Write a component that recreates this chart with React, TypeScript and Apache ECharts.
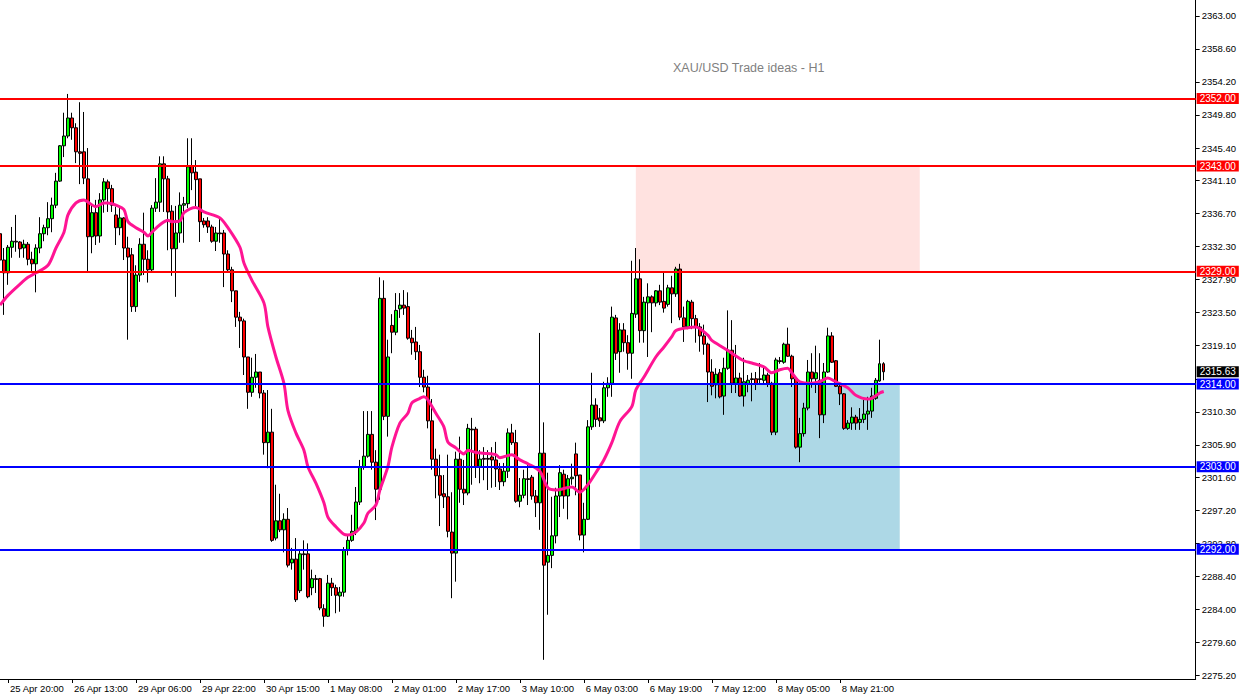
import React, { useEffect, useRef } from "react";
import * as echarts from "echarts";

// ---- data (XAU/USD H1) ----
const chartTitle = "XAU/USD Trade ideas - H1";

const xTickLabels = [
  "25 Apr 20:00", "26 Apr 13:00", "29 Apr 06:00", "29 Apr 22:00", "30 Apr 15:00",
  "1 May 08:00", "2 May 01:00", "2 May 17:00", "3 May 10:00", "6 May 03:00",
  "6 May 19:00", "7 May 12:00", "8 May 05:00", "8 May 21:00",
];
const firstLabelBar = 2;
const barsPerLabel = 16;
const totalSlots = 300;

// price-scale ticks; the 2314.70 label sits under the level tags in the reference
const yTickValues = [
  2363.0, 2358.6, 2354.2, 2349.8, 2345.4, 2341.1, 2336.7, 2332.3, 2327.9, 2323.5,
  2319.1, 2314.7, 2310.3, 2305.9, 2301.6, 2297.2, 2292.8, 2288.4, 2284.0, 2279.6, 2275.2,
];
const yLabelValues = [
  2363.0, 2358.6, 2354.2, 2349.8, 2345.4, 2341.1, 2336.7, 2332.3, 2327.9, 2323.5,
  2319.1, 2310.3, 2305.9, 2301.6, 2297.2, 2292.8, 2288.4, 2284.0, 2279.6, 2275.2,
];
const yMin = 2274.75;
const yMax = 2365.1;

const open = [
  2334.0, 2330.5, 2328.8, 2332.2, 2333.0, 2332.9, 2332.1, 2332.6, 2330.6, 2330.0,
  2332.1, 2334.0, 2334.8, 2336.0, 2337.8, 2341.0, 2345.7, 2347.0, 2349.4, 2348.1,
  2344.9, 2344.9, 2341.3, 2333.6, 2336.8, 2333.7, 2338.5, 2340.9, 2340.0, 2336.5,
  2334.8, 2336.1, 2332.1, 2331.2, 2324.3, 2328.5, 2332.6, 2330.6, 2329.2, 2337.4,
  2338.2, 2343.3, 2341.3, 2337.0, 2332.0, 2334.1, 2337.8, 2338.0, 2343.0, 2342.2,
  2341.3, 2335.7, 2335.7, 2334.9, 2333.0, 2334.1, 2334.1, 2331.3, 2329.2, 2326.4,
  2322.9, 2322.4, 2317.6, 2312.9, 2314.9, 2315.6, 2312.8, 2306.2, 2307.6, 2293.5,
  2295.8, 2294.6, 2296.0, 2290.2, 2290.7, 2286.5, 2291.4, 2291.4, 2286.9, 2288.1,
  2288.1, 2284.1, 2283.1, 2287.5, 2286.9, 2285.8, 2286.3, 2291.9, 2293.2, 2294.4,
  2298.3, 2303.0, 2304.4, 2307.3, 2303.6, 2300.0, 2325.4, 2309.7, 2321.8, 2320.9,
  2324.0, 2324.5, 2324.3, 2320.1, 2319.6, 2318.3, 2314.9, 2313.6, 2309.1, 2304.0,
  2301.8, 2299.4, 2299.0, 2294.3, 2291.5, 2304.0, 2300.0, 2299.5, 2308.0, 2308.0,
  2303.0, 2304.1, 2304.1, 2304.3, 2303.9, 2302.7, 2301.0, 2302.4, 2307.5, 2306.2,
  2298.4, 2299.2, 2301.4, 2301.6, 2299.1, 2298.2, 2304.8, 2290.3, 2291.2, 2293.8,
  2299.1, 2302.0, 2299.1, 2301.4, 2304.7, 2301.9, 2293.9, 2296.0, 2308.3, 2311.2,
  2309.5, 2309.1, 2313.5, 2314.1, 2322.8, 2318.3, 2321.2, 2319.5, 2318.1, 2323.3,
  2328.0, 2321.1, 2324.8, 2325.6, 2324.8, 2326.4, 2325.0, 2324.6, 2326.8, 2326.0,
  2329.3, 2322.8, 2321.6, 2324.9, 2322.7, 2321.6, 2320.4, 2319.3, 2315.6, 2313.9,
  2315.5, 2312.4, 2316.1, 2318.5, 2314.1, 2314.8, 2312.4, 2314.0, 2314.7, 2314.7,
  2314.7, 2314.5, 2315.2, 2314.1, 2307.6, 2317.1, 2316.9, 2319.3, 2317.7, 2314.7,
  2305.6, 2307.4, 2310.8, 2315.6, 2314.7, 2314.5, 2309.9, 2315.6, 2320.4, 2317.1,
  2313.7, 2312.7, 2308.1, 2308.8, 2309.6, 2308.9, 2309.3, 2310.0, 2310.4, 2312.1,
  2314.4, 2316.7,
];
const close = [
  2330.5, 2328.8, 2332.2, 2333.0, 2332.9, 2332.0, 2332.6, 2330.6, 2330.0, 2332.1,
  2334.0, 2334.8, 2336.0, 2337.8, 2341.0, 2345.7, 2347.0, 2349.4, 2348.1, 2344.9,
  2344.7, 2341.4, 2333.6, 2336.8, 2333.7, 2338.5, 2340.9, 2340.0, 2337.8, 2334.8,
  2336.1, 2332.1, 2330.9, 2324.3, 2328.5, 2332.6, 2330.6, 2329.2, 2337.4, 2338.2,
  2343.3, 2341.3, 2336.9, 2332.0, 2334.1, 2337.8, 2338.0, 2342.9, 2342.1, 2341.2,
  2335.6, 2335.2, 2334.9, 2333.0, 2334.1, 2334.0, 2331.3, 2329.2, 2326.4, 2322.9,
  2322.4, 2317.6, 2312.9, 2314.9, 2315.6, 2312.8, 2306.2, 2307.6, 2293.2, 2295.8,
  2294.6, 2296.0, 2289.9, 2290.7, 2285.3, 2291.4, 2291.3, 2285.7, 2288.1, 2288.0,
  2284.2, 2283.1, 2287.5, 2286.9, 2285.9, 2286.3, 2291.9, 2293.2, 2294.4, 2298.3,
  2303.0, 2304.4, 2307.3, 2303.6, 2300.0, 2325.4, 2309.7, 2317.6, 2320.9, 2323.8,
  2324.5, 2324.1, 2320.1, 2319.5, 2318.3, 2314.9, 2313.6, 2309.1, 2304.0, 2301.8,
  2299.2, 2299.0, 2294.4, 2291.5, 2304.0, 2300.0, 2299.5, 2308.1, 2307.9, 2303.0,
  2304.0, 2304.0, 2304.0, 2303.9, 2302.7, 2301.0, 2302.4, 2307.5, 2306.2, 2298.4,
  2299.2, 2301.4, 2301.3, 2299.1, 2298.2, 2304.8, 2289.9, 2291.2, 2293.8, 2299.1,
  2302.2, 2299.1, 2301.4, 2301.6, 2301.8, 2293.9, 2296.0, 2308.3, 2311.2, 2309.3,
  2309.1, 2313.5, 2314.1, 2322.9, 2318.1, 2321.2, 2319.5, 2318.1, 2323.4, 2328.0,
  2321.1, 2324.9, 2325.6, 2324.8, 2326.4, 2324.9, 2324.1, 2326.8, 2326.0, 2329.3,
  2322.9, 2321.6, 2325.0, 2322.7, 2321.6, 2320.4, 2319.3, 2315.6, 2313.7, 2315.3,
  2312.3, 2316.1, 2318.5, 2314.1, 2314.8, 2312.4, 2314.3, 2314.5, 2314.6, 2314.0,
  2314.6, 2315.2, 2314.1, 2307.6, 2317.2, 2317.0, 2319.3, 2317.7, 2314.7, 2305.6,
  2307.4, 2310.8, 2315.6, 2314.7, 2315.5, 2309.9, 2315.6, 2320.4, 2316.9, 2313.7,
  2312.7, 2308.1, 2308.8, 2309.6, 2308.8, 2309.3, 2310.0, 2310.4, 2312.4, 2314.5,
  2316.7, 2315.63,
];
const low = [
  2327.2, 2323.2, 2327.2, 2330.8, 2331.6, 2330.8, 2330.8, 2329.8, 2328.9, 2326.2,
  2331.4, 2333.0, 2333.8, 2334.2, 2337.4, 2340.9, 2344.2, 2346.7, 2346.5, 2343.4,
  2340.6, 2340.6, 2328.8, 2331.4, 2332.5, 2332.8, 2336.8, 2336.9, 2336.9, 2332.5,
  2333.8, 2330.5, 2319.9, 2323.6, 2323.6, 2327.6, 2328.5, 2327.5, 2328.9, 2336.9,
  2336.9, 2336.9, 2331.8, 2328.4, 2325.6, 2332.8, 2332.8, 2337.4, 2339.8, 2337.6,
  2332.9, 2334.8, 2334.1, 2332.8, 2331.7, 2332.8, 2326.9, 2328.8, 2324.9, 2321.6,
  2318.8, 2315.2, 2310.7, 2312.3, 2313.5, 2312.1, 2304.6, 2302.8, 2293.0, 2293.2,
  2294.3, 2291.6, 2289.6, 2289.3, 2285.0, 2286.2, 2289.3, 2285.5, 2285.9, 2286.2,
  2283.9, 2281.7, 2283.0, 2285.8, 2283.5, 2283.7, 2285.7, 2291.2, 2293.0, 2293.9,
  2297.9, 2302.6, 2304.2, 2302.6, 2295.9, 2298.6, 2309.2, 2307.0, 2318.1, 2320.5,
  2322.8, 2323.2, 2319.9, 2317.9, 2317.2, 2313.6, 2312.9, 2308.1, 2302.6, 2298.8,
  2295.1, 2297.5, 2293.6, 2285.5, 2287.7, 2298.2, 2297.9, 2299.2, 2300.6, 2301.5,
  2300.8, 2301.2, 2299.9, 2300.2, 2300.3, 2299.9, 2300.4, 2301.5, 2305.9, 2298.2,
  2297.6, 2298.8, 2297.9, 2298.6, 2296.3, 2294.6, 2277.3, 2283.3, 2289.5, 2292.8,
  2296.3, 2297.4, 2296.0, 2300.6, 2299.2, 2293.2, 2291.6, 2295.9, 2307.9, 2308.3,
  2308.3, 2308.8, 2312.3, 2312.3, 2317.2, 2315.5, 2318.3, 2315.9, 2314.7, 2322.8,
  2319.5, 2319.5, 2317.6, 2320.9, 2324.3, 2324.5, 2323.5, 2324.3, 2322.1, 2325.6,
  2322.5, 2319.6, 2321.3, 2321.3, 2319.5, 2318.3, 2317.9, 2311.6, 2312.5, 2312.1,
  2312.1, 2309.9, 2315.9, 2312.8, 2312.8, 2312.3, 2311.0, 2312.9, 2311.7, 2313.2,
  2313.9, 2313.9, 2313.6, 2307.2, 2307.2, 2316.7, 2316.7, 2317.6, 2313.6, 2305.4,
  2303.6, 2307.0, 2310.5, 2313.5, 2312.8, 2306.8, 2308.8, 2315.5, 2316.8, 2313.6,
  2311.2, 2307.9, 2307.9, 2307.9, 2307.9, 2307.9, 2308.8, 2307.9, 2309.5, 2311.9,
  2314.3, 2314.5,
];
const high = [
  2336.8, 2332.1, 2332.5, 2334.9, 2336.5, 2333.0, 2333.2, 2332.9, 2331.6, 2332.6,
  2336.2, 2335.2, 2338.2, 2338.8, 2342.1, 2345.8, 2350.1, 2352.6, 2350.1, 2348.7,
  2351.5, 2350.2, 2345.4, 2337.8, 2338.5, 2339.4, 2341.4, 2341.2, 2340.5, 2337.6,
  2337.6, 2336.2, 2333.6, 2332.1, 2329.8, 2333.4, 2336.8, 2331.8, 2337.8, 2341.4,
  2344.3, 2344.3, 2341.7, 2337.8, 2337.7, 2339.5, 2338.9, 2346.7, 2346.7, 2343.8,
  2341.3, 2336.1, 2336.2, 2335.2, 2334.9, 2336.2, 2334.5, 2331.8, 2329.6, 2326.4,
  2323.6, 2322.7, 2317.6, 2317.5, 2318.0, 2315.6, 2313.2, 2313.2, 2310.7, 2300.6,
  2299.4, 2296.8, 2297.5, 2292.2, 2293.5, 2291.9, 2293.2, 2292.8, 2289.3, 2288.6,
  2288.2, 2284.7, 2288.6, 2288.2, 2287.3, 2287.0, 2292.3, 2293.9, 2296.6, 2300.3,
  2303.9, 2310.4, 2310.4, 2310.4, 2305.2, 2328.2, 2327.8, 2319.9, 2323.3, 2326.1,
  2326.1, 2326.5, 2326.2, 2321.2, 2321.6, 2319.2, 2315.9, 2315.1, 2312.0, 2305.4,
  2304.6, 2301.9, 2304.6, 2299.6, 2305.0, 2307.0, 2303.9, 2308.7, 2309.5, 2308.3,
  2305.2, 2305.6, 2305.2, 2305.6, 2306.3, 2303.5, 2303.5, 2308.1, 2308.7, 2307.9,
  2301.5, 2302.6, 2303.2, 2301.9, 2299.9, 2320.8, 2308.9, 2302.2, 2299.0, 2300.2,
  2303.2, 2302.6, 2301.9, 2303.4, 2306.2, 2301.9, 2298.2, 2309.2, 2315.5, 2312.1,
  2310.8, 2314.3, 2314.9, 2324.3, 2323.2, 2322.1, 2322.1, 2320.5, 2330.4, 2332.1,
  2330.6, 2325.6, 2327.4, 2325.8, 2326.5, 2327.2, 2328.9, 2327.2, 2328.4, 2329.6,
  2330.0, 2324.3, 2325.2, 2325.2, 2323.2, 2322.1, 2321.9, 2319.5, 2317.3, 2316.1,
  2316.0, 2317.5, 2323.8, 2322.5, 2319.2, 2315.5, 2317.5, 2315.2, 2315.5, 2315.6,
  2316.8, 2316.3, 2315.5, 2314.3, 2317.5, 2317.6, 2319.5, 2321.5, 2317.9, 2314.8,
  2309.5, 2311.5, 2317.2, 2318.1, 2319.1, 2318.1, 2316.8, 2321.5, 2320.9, 2317.2,
  2313.9, 2312.8, 2309.2, 2310.9, 2309.9, 2310.8, 2311.9, 2312.3, 2313.5, 2314.8,
  2319.9, 2316.9,
];

// moving average as [bar index, price]
const maPoints = [
  [0, 2324.5], [2, 2325.8], [5, 2327.3], [7, 2328.2], [9, 2328.8], [12, 2329.8], [14, 2332.1],
  [16, 2334.2], [17, 2336.5], [19, 2338.1], [21, 2338.5], [22, 2338.2], [24, 2337.6], [26, 2338.1],
  [27, 2338.1], [29, 2337.8], [31, 2337.2], [32, 2335.6], [34, 2334.8], [36, 2334.2], [37, 2333.7],
  [38, 2334.2], [40, 2335.2], [42, 2335.8], [43, 2335.6], [45, 2335.7], [46, 2336.8], [49, 2337.5],
  [51, 2336.9], [55, 2336.1], [57, 2334.8], [60, 2332.2], [61, 2330.1], [63, 2327.8], [66, 2324.8],
  [67, 2321.6], [69, 2317.6], [71, 2314.1], [72, 2310.5], [74, 2307.5], [76, 2305.2], [77, 2303.0],
  [79, 2300.8], [81, 2298.2], [82, 2296.3], [84, 2295.0], [86, 2294.0], [87, 2293.9], [89, 2294.3],
  [91, 2295.5], [92, 2296.8], [94, 2297.9], [95, 2299.9], [97, 2303.0], [98, 2305.6], [100, 2308.8],
  [102, 2310.1], [103, 2311.5], [105, 2312.1], [106, 2312.3], [107, 2311.9], [109, 2310.1], [111, 2308.3],
  [112, 2306.3], [114, 2305.5], [116, 2304.7], [117, 2305.2], [119, 2304.9], [121, 2304.8], [124, 2304.6],
  [125, 2304.2], [128, 2304.6], [130, 2303.9], [132, 2303.4], [135, 2302.4], [137, 2300.2], [139, 2299.9],
  [143, 2300.3], [145, 2299.6], [147, 2300.6], [149, 2302.2], [151, 2303.9], [153, 2306.2], [155, 2309.0],
  [158, 2311.0], [159, 2313.2], [161, 2314.9], [164, 2317.6], [166, 2318.9], [168, 2320.3], [169, 2321.1],
  [172, 2321.5], [174, 2321.6], [177, 2320.5], [178, 2319.8], [181, 2318.8], [183, 2318.1], [186, 2317.1],
  [188, 2316.8], [191, 2316.3], [193, 2315.5], [195, 2315.9], [197, 2316.1], [198, 2315.5], [200, 2314.3],
  [203, 2314.1], [205, 2314.3], [207, 2314.8], [209, 2314.3], [212, 2313.5], [214, 2312.5], [217, 2312.0],
  [218, 2312.1], [220, 2312.8], [221, 2313.0],
];

const resistanceLevels = [2352.0, 2343.0, 2329.0];
const supportLevels = [2314.0, 2303.0, 2292.0];
const lastPrice = 2315.63;

const sellZone = { fromBar: 159, toBar: 230, top: 2343.0, bottom: 2329.0 };
const buyZone = { fromBar: 160, toBar: 225, top: 2314.0, bottom: 2292.0 };

const FONT = "'Liberation Sans', Arial, sans-serif";

export default function App() {
  const ref = useRef<HTMLDivElement>(null);

  useEffect(() => {
    if (!ref.current) return;
    const chart = echarts.init(ref.current, null, { renderer: "svg" });

    const categories = Array.from({ length: totalSlots }, (_, i) => String(i));
    const labelAt = new Map<number, string>();
    xTickLabels.forEach((t, j) => labelAt.set(firstLabelBar + barsPerLabel * j, t));
    const candles = open.map((o, i) => [o, close[i], low[i], high[i]]);

    const tag = (bg: string) => ({
      backgroundColor: bg,
      color: "#ffffff",
    });

    const option: any = {
      animation: false,
      backgroundColor: "#ffffff",
      title: {
        text: chartTitle,
        left: 673,
        top: 61,
        padding: 0,
        textStyle: { color: "#7f7f7f", fontSize: 12.5, fontWeight: "normal", fontFamily: FONT },
      },
      grid: { left: 0, right: 43, top: 0, bottom: 18, containLabel: false },
      xAxis: {
        type: "category",
        data: categories,
        boundaryGap: false,
        axisLine: { show: true, lineStyle: { color: "#000", width: 1 } },
        axisTick: {
          show: true,
          interval: (i: number) => labelAt.has(i),
          length: 4,
          lineStyle: { color: "#000" },
        },
        axisLabel: {
          interval: (i: number) => labelAt.has(i),
          formatter: (_v: string, i: number) => labelAt.get(i) ?? "",
          align: "left",
          padding: [0, 0, 0, 2],
          margin: 4,
          color: "#000",
          fontSize: 9.5,
          fontFamily: FONT,
        },
        splitLine: { show: false },
      },
      yAxis: {
        type: "value",
        position: "right",
        min: yMin,
        max: yMax,
        axisLine: { show: true, lineStyle: { color: "#000", width: 1 } },
        axisTick: { show: true, customValues: yTickValues, length: 4, lineStyle: { color: "#000" } },
        axisLabel: {
          customValues: yLabelValues,
          formatter: (v: number) => v.toFixed(2),
          color: "#000",
          fontSize: 9.5,
          fontFamily: FONT,
          margin: 6,
        },
        splitLine: { show: false },
      },
      series: [
        {
          type: "candlestick",
          data: candles,
          barWidth: 3,
          z: 3,
          itemStyle: {
            color: "#00ff00",
            color0: "#ff0000",
            borderColor: "#000000",
            borderColor0: "#000000",
            borderColorDoji: "#000000",
            borderWidth: 1,
          },
          markArea: {
            silent: true,
            z: 1,
            label: { show: false },
            data: [
              [
                { xAxis: sellZone.fromBar, yAxis: sellZone.top, itemStyle: { color: "#ffe2e0" } },
                { xAxis: sellZone.toBar, yAxis: sellZone.bottom },
              ],
              [
                { xAxis: buyZone.fromBar, yAxis: buyZone.top, itemStyle: { color: "#add8e6" } },
                { xAxis: buyZone.toBar, yAxis: buyZone.bottom },
              ],
            ],
          },
        },
        {
          type: "line",
          data: maPoints,
          showSymbol: false,
          smooth: 0.3,
          z: 4,
          lineStyle: { color: "#ff1493", width: 3 },
          markLine: {
            silent: true,
            symbol: ["none", "none"],
            animation: false,
            label: {
              show: true,
              position: "end",
              distance: 1,
              formatter: (p: any) => Number(p.value).toFixed(2),
              fontSize: 10,
              fontFamily: FONT,
              padding: [1, 3, 0, 3],
              lineHeight: 10,
            },
            data: [
              ...resistanceLevels.map((v) => ({
                yAxis: v,
                lineStyle: { color: "#ff0000", width: 2, type: "solid" },
                label: tag("#ff0000"),
              })),
              ...supportLevels.map((v) => ({
                yAxis: v,
                lineStyle: { color: "#0000ff", width: 2, type: "solid" },
                label: tag("#0000ff"),
              })),
              {
                yAxis: lastPrice,
                lineStyle: { color: "rgba(0,0,0,0)", width: 1, type: "solid" },
                label: tag("#000000"),
              },
            ],
          },
        },
      ],
    };

    chart.setOption(option);
    return () => chart.dispose();
  }, []);

  return (
    <div
      ref={ref}
      style={{ position: "fixed", left: 0, top: 0, width: 1239, height: 697, background: "#fff" }}
    />
  );
}
